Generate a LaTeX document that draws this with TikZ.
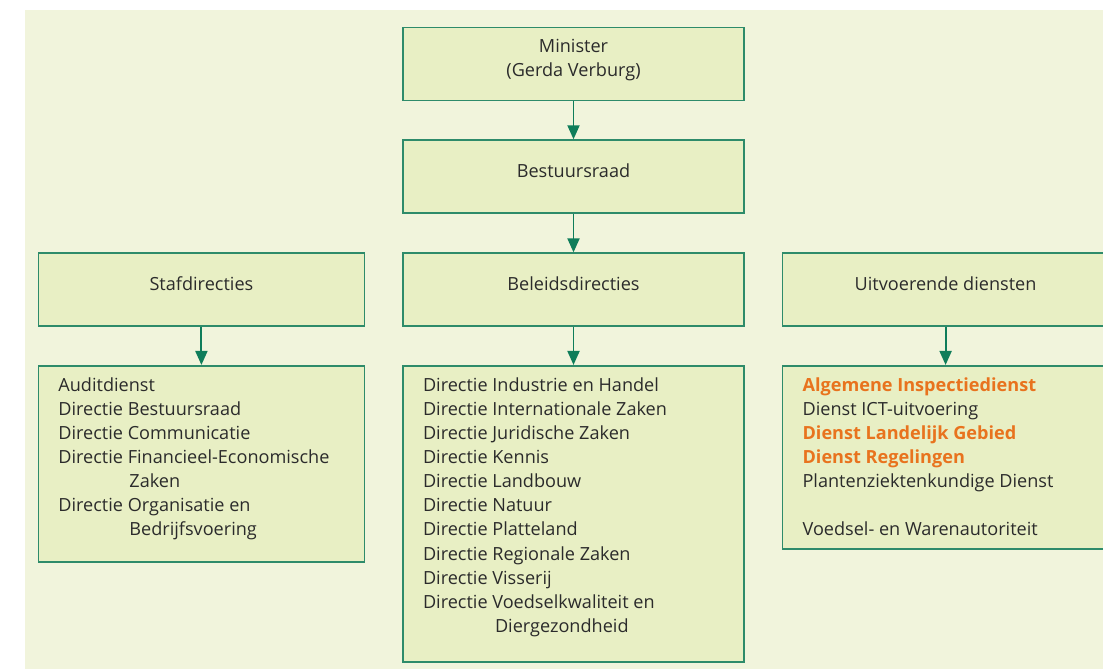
\documentclass[tikz,border=0pt]{standalone}
\usepackage{fontspec}
\setmainfont{Open Sans}
\usetikzlibrary{positioning, arrows.meta}

\definecolor{achtergrond}{HTML}{F1F4DC}
\definecolor{vakvulling}{HTML}{E8EFC4}
\definecolor{vakrand}{HTML}{2E8B6A}
\definecolor{pijlkleur}{HTML}{0F7D5A}
\definecolor{oranje}{HTML}{E8731E}
\definecolor{tekstkleur}{HTML}{2B2B2B}

\newcommand{\lijst}[3]{\begin{minipage}[t][#1][t]{#2}\vspace*{0.24cm}\raggedright #3\end{minipage}}
\newcommand{\nadruk}[1]{\textbf{\textcolor{oranje}{#1}}}

\begin{document}
\begin{tikzpicture}[
    every node/.style={font=\fontsize{10.3}{13.7}\selectfont, text=tekstkleur},
    vak/.style={draw=vakrand, fill=vakvulling, line width=0.9pt, minimum height=1.46cm, text depth=0.25cm, align=center},
    lijstvak/.style={draw=vakrand, fill=vakvulling, line width=0.9pt, inner xsep=0.4cm, inner ysep=0pt},
    pijl/.style={color=pijlkleur, line width=1.1pt, -{Triangle[width=0.24cm, length=0.28cm]}},
    node distance=0.76cm]
    \useasboundingbox (0,0) rectangle (22.06,-13.36);
    \fill[achtergrond] (0.5,-0.2) rectangle (22.2,-13.5);

    \node[vak, minimum width=6.82cm] (minister) at (11.47,-1.28) {Minister\\(Gerda Verburg)};
    \node[vak, minimum width=6.82cm, below=of minister] (bestuursraad) {Bestuursraad};
    \node[vak, minimum width=6.82cm, below=0.77cm of bestuursraad] (beleid) {Beleidsdirecties};
    \node[vak, minimum width=6.52cm, left=0.74cm of beleid] (staf) {Stafdirecties};
    \node[vak, minimum width=6.52cm, right=0.74cm of beleid] (uitvoering) {Uitvoerende diensten};

    \node[lijstvak, below=of staf] (staflijst) {\lijst{3.92cm}{5.72cm}{%
        Auditdienst\\
        Directie Bestuursraad\\
        Directie Communicatie\\
        Directie Financieel-Economische\\
        \hspace*{1.42cm}Zaken\\
        Directie Organisatie en\\
        \hspace*{1.42cm}Bedrijfsvoering}};
    \node[lijstvak, below=of beleid] (beleidlijst) {\lijst{5.92cm}{6.02cm}{%
        Directie Industrie en Handel\\
        Directie Internationale Zaken\\
        Directie Juridische Zaken\\
        Directie Kennis\\
        Directie Landbouw\\
        Directie Natuur\\
        Directie Platteland\\
        Directie Regionale Zaken\\
        Directie Visserij\\
        Directie Voedselkwaliteit en\\
        \hspace*{1.44cm}Diergezondheid}};
    \node[lijstvak, below=of uitvoering] (uitvoeringlijst) {\lijst{3.66cm}{5.72cm}{%
        \nadruk{Algemene Inspectiedienst}\\
        Dienst ICT-uitvoering\\
        \nadruk{Dienst Landelijk Gebied}\\
        \nadruk{Dienst Regelingen}\\
        Plantenziektenkundige Dienst\\[13.7pt]
        Voedsel- en Warenautoriteit}};

    \path[pijl]
    (minister) edge (bestuursraad)
    (bestuursraad) edge (beleid)
    (staf) edge (staflijst)
    (beleid) edge (beleidlijst)
    (uitvoering) edge (uitvoeringlijst);
\end{tikzpicture}
\end{document}
